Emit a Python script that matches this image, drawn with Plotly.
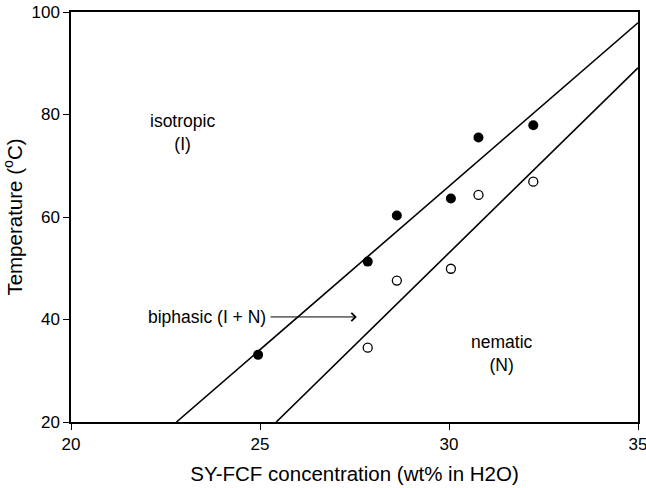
import plotly.graph_objects as go

# Data
filled_x = [24.95, 27.85, 28.62, 30.05, 30.78, 32.23]
filled_y = [33.1, 51.3, 60.3, 63.6, 75.5, 77.9]
open_x = [27.85, 28.62, 30.05, 30.78, 32.23]
open_y = [34.5, 47.6, 49.9, 64.3, 66.9]
upper_line_x = [22.79, 35.0]
upper_line_y = [20.0, 97.9]
lower_line_x = [25.43, 35.0]
lower_line_y = [20.0, 89.1]

x_ticks = [20, 25, 30, 35]
y_ticks = [20, 40, 60, 80, 100]

FONT = "Liberation Sans, Arial, sans-serif"

fig = go.Figure()
fig.add_trace(go.Scatter(x=upper_line_x, y=upper_line_y, mode="lines",
                         line=dict(color="black", width=1.6), showlegend=False))
fig.add_trace(go.Scatter(x=lower_line_x, y=lower_line_y, mode="lines",
                         line=dict(color="black", width=1.6), showlegend=False))
fig.add_trace(go.Scatter(x=filled_x, y=filled_y, mode="markers",
                         marker=dict(color="black", size=10, symbol="circle"),
                         showlegend=False))
fig.add_trace(go.Scatter(x=open_x, y=open_y, mode="markers",
                         marker=dict(color="white", size=9, symbol="circle",
                                     line=dict(color="black", width=1.3)),
                         showlegend=False))

fig.add_annotation(x=22.95, y=76.5, text="isotropic<br>(I)", showarrow=False,
                   font=dict(size=17.5, color="black", family=FONT))
fig.add_annotation(x=31.4, y=33.4, text="nematic<br>(N)", showarrow=False,
                   font=dict(size=17.5, color="black", family=FONT))
fig.add_annotation(x=27.56, y=40.5, ax=25.28, ay=40.5, axref="x", ayref="y",
                   xref="x", yref="y", text="biphasic (I + N)", xanchor="right",
                   showarrow=True, arrowhead=4, arrowsize=1.6, arrowwidth=1,
                   arrowcolor="black", standoff=0, borderpad=4,
                   font=dict(size=17.5, color="black", family=FONT))

fig.update_layout(
    width=646, height=488,
    margin=dict(l=71, r=8, t=12, b=66),
    paper_bgcolor="white", plot_bgcolor="white",
    font=dict(family=FONT, size=17, color="black"),
    xaxis=dict(range=[20, 35], tickvals=x_ticks, showgrid=False, zeroline=False,
               showline=True, mirror=True, linecolor="black", linewidth=1.5,
               ticks="outside", ticklen=6, tickwidth=1.3, tickcolor="black",
               tickfont=dict(size=17), automargin=False, ticklabeloverflow="allow",
               title=dict(text="SY-FCF concentration (wt% in H2O)", font=dict(size=20.5),
                          standoff=13)),
    yaxis=dict(range=[20, 100], tickvals=y_ticks, showgrid=False, zeroline=False,
               showline=True, mirror=True, linecolor="black", linewidth=1.5,
               ticks="outside", ticklen=6, tickwidth=1.3, tickcolor="black",
               tickfont=dict(size=17), automargin=False,
               title=dict(text="Temperature (<sup>o</sup>C)", font=dict(size=20.5),
                          standoff=12)),
)

fig.write_html("out.html")
